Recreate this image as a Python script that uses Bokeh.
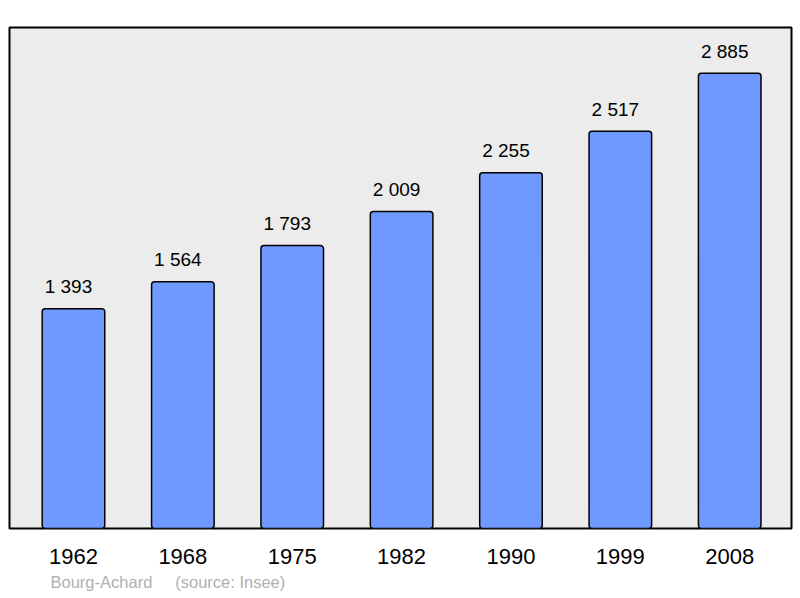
from bokeh.plotting import figure
from bokeh.models import Range1d, FixedTicker, Title, ColumnDataSource
from bokeh.core.properties import value
from bokeh.embed import file_html
from bokeh.resources import INLINE

years = ["1962", "1968", "1975", "1982", "1990", "1999", "2008"]
population = [1393, 1564, 1793, 2009, 2255, 2517, 2885]
labels = ["1 393", "1 564", "1 793", "2 009", "2 255", "2 517", "2 885"]
town = "Bourg-Achard"
source_note = "(source: Insee)"

FONT = "Liberation Sans"
xs = list(range(len(years)))
src = ColumnDataSource(dict(x=xs, y=population, lab=labels))

p = figure(width=800, height=598, output_backend="svg", toolbar_location=None,
           x_range=Range1d(-0.585, 6.565), y_range=Range1d(0, 3175),
           y_axis_location=None, min_border_left=9, min_border_right=9,
           min_border_top=27, min_border_bottom=70)
p.background_fill_color = "#ececec"
p.border_fill_color = "white"
p.outline_line_color = "black"
p.outline_line_width = 2
p.grid.visible = False

p.vbar(x="x", top="y", width=0.572, bottom=0, source=src,
       fill_color="#7099ff", line_color="black", line_width=1.5, border_radius=3)

p.text(x="x", y="y", text="lab", source=src, x_offset=-5, y_offset=-22,
       text_align="center", text_baseline="alphabetic",
       text_font=value(FONT), text_font_size="19px", text_color="black")

ax = p.xaxis[0]
ax.ticker = FixedTicker(ticks=xs)
ax.major_label_overrides = {i: y for i, y in enumerate(years)}
ax.axis_line_color = None
ax.major_tick_line_color = None
ax.minor_tick_line_color = None
ax.major_label_standoff = 14
ax.major_label_text_font = FONT
ax.major_label_text_font_size = "22px"
ax.major_label_text_color = "black"

footer = town + "\u00a0" * 5 + source_note
p.add_layout(Title(text=footer, align="left", offset=41, standoff=9,
                   text_font=FONT, text_font_size="16.5px", text_font_style="normal",
                   text_color="#b0b0b0"), "below")

open("out.html", "w").write(file_html(p, INLINE))
